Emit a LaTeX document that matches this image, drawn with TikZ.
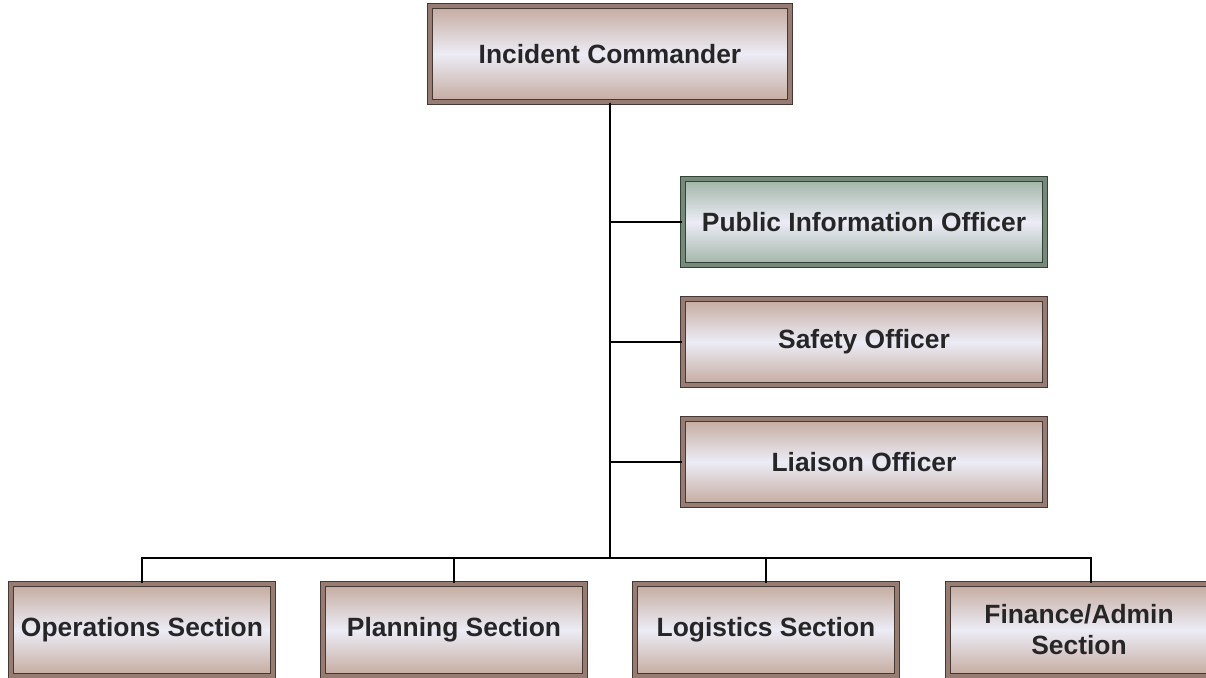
\documentclass[tikz,border=0pt]{standalone}
\usepackage{fontspec}
\setmainfont{Liberation Sans}
\usepackage{tikz}
\usetikzlibrary{positioning,calc}

\definecolor{boxbrown}{RGB}{196,170,158}
\definecolor{boxmid}{RGB}{236,236,246}
\definecolor{boxedge}{RGB}{70,56,52}
\definecolor{boxband}{RGB}{150,124,114}
\definecolor{boxgreen}{RGB}{160,180,166}
\definecolor{greenedge}{RGB}{52,66,56}
\definecolor{greenband}{RGB}{118,138,122}

\tikzset{
    unit/.style={rectangle, draw=boxedge, line width=0.6pt, double=boxband, double distance=1.6pt,
        top color=boxbrown, bottom color=boxbrown, middle color=boxmid,
        font=\fontsize{13.2}{15.5}\selectfont\bfseries, text=black!85, align=center,
        inner sep=0pt},
    greenunit/.style={unit, draw=greenedge, double=greenband,
        top color=boxgreen, bottom color=boxgreen, middle color=boxmid},
    link/.style={line width=1pt, black}
}

\begin{document}
\begin{tikzpicture}[x=0.5pt, y=-0.5pt]
        \useasboundingbox (0, 0) rectangle (1206, 678);
        \clip (0, 0) rectangle (1206, 678);

        \node[unit, minimum width=180pt, minimum height=48pt] (ic) at (610, 54) {Incident Commander};

        \node[greenunit, minimum width=181pt, minimum height=43pt] (pio) at (864, 222) {Public Information Officer};
        \node[unit, minimum width=181pt, minimum height=43pt] (safety) at (864, 342) {Safety Officer};
        \node[unit, minimum width=181pt, minimum height=43pt] (liaison) at (864, 462) {Liaison Officer};

        \node[unit, minimum width=131pt, minimum height=46pt] (ops) at (142, 630) {Operations Section};
        \node[unit, minimum width=131pt, minimum height=46pt] (plan) at (454, 630) {Planning Section};
        \node[unit, minimum width=131pt, minimum height=46pt] (logi) at (766, 630) {Logistics Section};
        \node[unit, minimum width=131pt, minimum height=46pt] (fin) at (1079, 630) {Finance/Admin\\Section};

        \coordinate (bus) at (610, 558);

        % command staff
        \draw[link] (ic.south) -- (bus);
        \draw[link] (ic.south) |- (pio.west);
        \draw[link] (ic.south) |- (safety.west);
        \draw[link] (ic.south) |- (liaison.west);

        % general staff
        \draw[link] (bus) -| (ops.north);
        \draw[link] (bus) -| (plan.north);
        \draw[link] (bus) -| (logi.north);
        \draw[link] (bus) -| ([xshift=6pt]fin.north);
    \end{tikzpicture}
\end{document}
